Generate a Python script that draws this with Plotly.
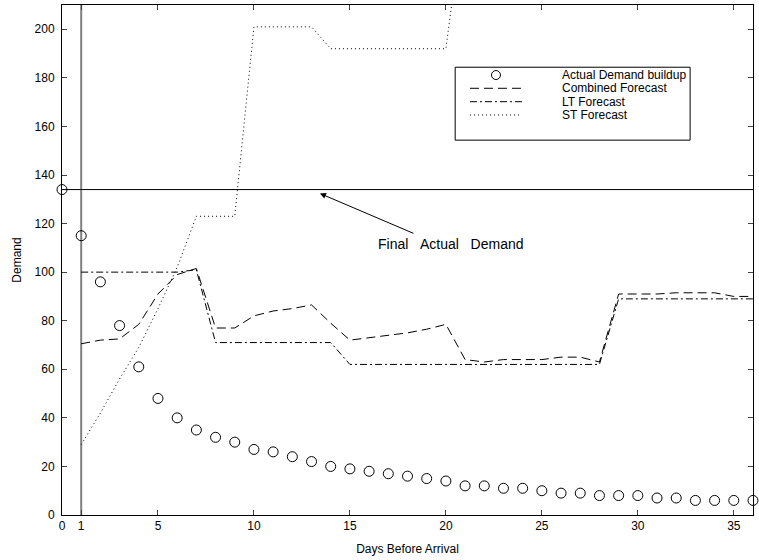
import plotly.graph_objects as go

# ---- data ----
days = list(range(0, 37))
actual_demand = [134, 115, 96, 78, 61, 48, 40, 35, 32, 30, 27, 26, 24, 22, 20, 19, 18, 17,
                 16, 15, 14, 12, 12, 11, 11, 10, 9, 9, 8, 8, 8, 7, 7, 6, 6, 6, 6]
forecast_days = list(range(1, 37))
combined_forecast = [70.5, 72, 72.5, 78.5, 91, 99, 101.5, 77, 77, 82, 84, 85, 86.5, 79, 72, 73,
                     74, 75, 76.5, 78.5, 64, 63, 64, 64, 64, 65, 65, 63, 91, 91, 91, 91.5,
                     91.5, 91.5, 90, 90]
lt_forecast = [100] * 6 + [101] + [71] * 7 + [62] * 14 + [89] * 8
st_days = list(range(1, 22))
st_forecast = [29, 42, 56, 69, 85, 102, 123, 123, 123, 201, 201, 201, 201,
               192, 192, 192, 192, 192, 192, 192, 252]
final_demand = 134
booking_start = 1
x_ticks = [0, 1, 5, 10, 15, 20, 25, 30, 35]
y_ticks = list(range(0, 201, 20))
legend_names = ["Actual Demand buildup", "Combined Forecast", "LT Forecast", "ST Forecast"]

FONT = "Liberation Sans, Arial, Helvetica, sans-serif"
DASH_COMBINED = "9px,5px"
DASH_LT = "7px,3px,2px,3px"
DASH_ST = "1px,3px"

fig = go.Figure()

# grey vertical line at day 1
fig.add_trace(go.Scatter(x=[booking_start, booking_start], y=[0, 210], mode="lines",
                         line=dict(color="#808080", width=2), showlegend=False,
                         hoverinfo="skip"))
# final actual demand horizontal line
fig.add_trace(go.Scatter(x=[0, 36], y=[final_demand, final_demand], mode="lines",
                         line=dict(color="black", width=1), showlegend=False,
                         hoverinfo="skip"))

fig.add_trace(go.Scatter(x=days, y=actual_demand, mode="markers",
                         name=legend_names[0], showlegend=False,
                         marker=dict(symbol="circle-open", size=10,
                                     color="black", line=dict(width=1, color="black")),
                         cliponaxis=False))
fig.add_trace(go.Scatter(x=forecast_days, y=combined_forecast, mode="lines",
                         name=legend_names[1], showlegend=False,
                         line=dict(color="black", width=1, dash=DASH_COMBINED)))
fig.add_trace(go.Scatter(x=forecast_days, y=lt_forecast, mode="lines",
                         name=legend_names[2], showlegend=False,
                         line=dict(color="black", width=1, dash=DASH_LT)))
fig.add_trace(go.Scatter(x=st_days, y=st_forecast, mode="lines",
                         name=legend_names[3], showlegend=False,
                         line=dict(color="black", width=1, dash=DASH_ST)))

# arrow + label
fig.add_annotation(x=13.44, y=132.4, ax=18.39, ay=115.7, xref="x", yref="y",
                   axref="x", ayref="y", text="", showarrow=True,
                   arrowhead=2, arrowsize=1.2, arrowwidth=1, arrowcolor="black")
fig.add_annotation(x=20.26, y=111.7, xref="x", yref="y",
                   text="Final&nbsp;&nbsp;&nbsp;Actual&nbsp;&nbsp;&nbsp;Demand",
                   showarrow=False, font=dict(family=FONT, size=14, color="black"))

# ---- compact MATLAB-style legend (layout only) ----
lg_x0, lg_x1, lg_y0, lg_y1 = 0.569, 0.909, 0.735, 0.878
row_y = [0.8627, 0.8367, 0.8104, 0.7843]
sym_x0, sym_x1, txt_x = 0.5904, 0.6657, 0.7207
fig.add_shape(type="rect", xref="paper", yref="paper", x0=lg_x0, x1=lg_x1,
              y0=lg_y0, y1=lg_y1, line=dict(color="black", width=1),
              fillcolor="white", layer="above")
fig.add_shape(type="circle", xref="paper", yref="paper",
              xsizemode="pixel", ysizemode="pixel",
              xanchor=(sym_x0 + sym_x1) / 2, yanchor=row_y[0],
              x0=-4.5, x1=4.5, y0=-4.5, y1=4.5,
              line=dict(color="black", width=1), layer="above")
for ry, dash in zip(row_y[1:], [DASH_COMBINED, DASH_LT, DASH_ST]):
    fig.add_shape(type="line", xref="paper", yref="paper", x0=sym_x0, x1=sym_x1,
                  y0=ry, y1=ry, line=dict(color="black", width=1, dash=dash),
                  layer="above")
for ry, name in zip(row_y, legend_names):
    fig.add_annotation(x=txt_x, y=ry, xref="paper", yref="paper", text=name,
                       showarrow=False, xanchor="left", yanchor="middle",
                       font=dict(family=FONT, size=12, color="black"))

fig.update_layout(
    width=759, height=560,
    margin=dict(l=62, r=6, t=5, b=45),
    paper_bgcolor="white", plot_bgcolor="white",
    font=dict(family=FONT, size=12, color="black"),
    showlegend=False,
    xaxis=dict(range=[0, 36], tickvals=x_ticks, ticks="inside", ticklen=5,
               showline=True, linecolor="black", linewidth=1, mirror="allticks",
               showgrid=False, zeroline=False, automargin=False,
               tickfont=dict(family=FONT, size=12),
               title=dict(text="Days Before Arrival", standoff=12,
                          font=dict(family=FONT, size=12))),
    yaxis=dict(range=[0, 210], tickvals=y_ticks, ticks="inside", ticklen=5,
               showline=True, linecolor="black", linewidth=1, mirror="allticks",
               showgrid=False, zeroline=False, automargin=False,
               ticklabelstandoff=4,
               tickfont=dict(family=FONT, size=12),
               title=dict(text="Demand", standoff=10,
                          font=dict(family=FONT, size=12))),
)

fig.write_html("out.html", config={"displayModeBar": False},
               post_script="document.body.style.margin='0px';")
